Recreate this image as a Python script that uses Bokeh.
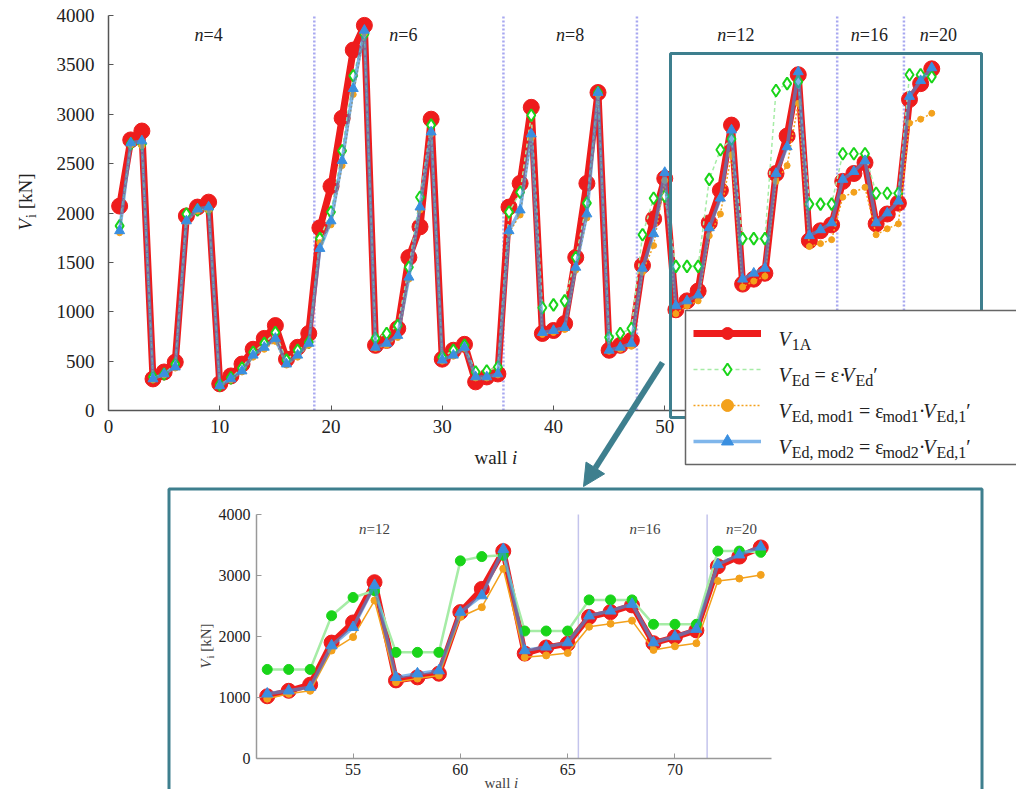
from bokeh.plotting import figure
from bokeh.models import (Range1d, FixedTicker, BoxAnnotation, Arrow, NormalHead, Label,
                          ColumnDataSource, Legend, LegendItem, LinearAxis)
from bokeh.embed import file_html
from bokeh.resources import INLINE

# ---- data: shear force per wall [kN] ----
walls = list(range(1, 75))

v_1a = [2070, 2740, 2830, 320, 390, 490, 1970, 2060, 2110, 270,
        350, 470, 620, 730, 860, 520, 640, 780, 1850, 2270,
        2960, 3650, 3900, 660, 710, 830, 1550, 1860, 2950, 520,
        610, 670, 290, 340, 370, 2060, 2300, 3070, 780, 810,
        880, 1550, 2300, 3220, 610, 660, 710, 1470, 1940, 2350,
        1020, 1110, 1210, 1900, 2230, 2890, 1280, 1330, 1390, 2400,
        2780, 3400, 1720, 1820, 1880, 2320, 2400, 2510, 1890, 1990,
        2100, 3150, 3310, 3460]

v_ed = [1870, 2700, 2700, 340, 370, 470, 1990, 2030, 2040, 260,
        330, 430, 590, 680, 790, 510, 610, 690, 1740, 2010,
        2630, 3390, 3810, 730, 780, 860, 1450, 2160, 2890, 540,
        610, 660, 390, 400, 440, 2010, 2210, 2990, 1040, 1070,
        1110, 1550, 2100, 3220, 740, 780, 830, 1780, 2150, 2170,
        1460, 1460, 1460, 2340, 2640, 2750, 1740, 1740, 1740, 3240,
        3310, 3330, 2090, 2090, 2090, 2600, 2600, 2600, 2200, 2200,
        2200, 3400, 3400, 3380]

v_mod1 = [1800, 2690, 2680, 310, 360, 430, 1910, 2020, 2030, 250,
          310, 390, 540, 620, 700, 460, 540, 660, 1700, 1880,
          2480, 3200, 3820, 630, 660, 740, 1330, 2030, 2800, 500,
          550, 630, 330, 330, 360, 1800, 1980, 2760, 770, 790,
          820, 1420, 1950, 3200, 600, 620, 650, 1400, 1670, 2330,
          980, 1060, 1110, 1770, 1990, 2590, 1250, 1310, 1360, 2320,
          2480, 3110, 1660, 1690, 1730, 2160, 2210, 2260, 1780, 1840,
          1890, 2910, 2950, 3010]

v_mod2 = [1820, 2710, 2730, 320, 370, 440, 1920, 2040, 2060, 250,
          320, 400, 560, 640, 730, 470, 560, 680, 1640, 1920,
          2530, 3260, 3850, 640, 680, 760, 1350, 2060, 2820, 510,
          560, 640, 340, 340, 370, 1820, 2030, 2800, 790, 810,
          840, 1450, 1990, 3220, 610, 640, 680, 1440, 1790, 2410,
          1060, 1110, 1170, 1850, 2150, 2840, 1330, 1390, 1440, 2400,
          2670, 3430, 1770, 1830, 1900, 2340, 2420, 2530, 1900, 2000,
          2120, 3180, 3340, 3470]

# storey groups: boundaries between wall groups and their labels
group_bounds = [18.5, 35.5, 47.5, 65.5, 71.5]
group_names = ["4", "6", "8", "12", "16", "20"]
group_label_x = [9.0, 26.5, 41.5, 56.4, 68.4, 74.6]
inset_first_wall = 51
inset_group_names = ["12", "16", "20"]
inset_group_label_x = [56.0, 68.6, 73.1]

main_xticks = [0, 10, 20, 30, 40, 50, 60, 70, 80]
main_yticks = [0, 500, 1000, 1500, 2000, 2500, 3000, 3500, 4000]
inset_xticks = [55, 60, 65, 70]
inset_yticks = [0, 1000, 2000, 3000, 4000]

SERIF = "Liberation Serif"
TEAL = "#3e7f8e"
RED = "#ee1c1c"
GREEN_LINE = "#a6eca6"
GREEN = "#19d419"
ORANGE = "#f3a11c"
BLUE = "#3a8fe0"
SEP = "#a8a8f0"
AXIS = "#555555"
TEXT = "#222222"
NB = "\u00a0"  # non-collapsing space for the typeset labels

W_PX, H_PX = 1016, 789

# page geometry of the two sets of axes (left, right, top, bottom in pixels)
MAIN_BOX = (108, 998, 15, 410)     # x 0..80, y 0..4000
INSET_BOX = (256, 771, 514, 758)   # x 50.5..74.5, y 0..4000


def full_range(lo, hi, a, b, total):
    """Range covering the whole canvas so that value lo sits at pixel a and hi at pixel b."""
    per = (hi - lo) / (b - a)
    return Range1d(lo - a * per, hi + (total - b) * per)


main_xr = full_range(0, 80, MAIN_BOX[0], MAIN_BOX[1], W_PX)
main_yr = full_range(0, 4000, H_PX - MAIN_BOX[3], H_PX - MAIN_BOX[2], H_PX)
inset_xr = full_range(50.5, 74.5, INSET_BOX[0], INSET_BOX[1], W_PX)
inset_yr = full_range(0, 4000, H_PX - INSET_BOX[3], H_PX - INSET_BOX[2], H_PX)


def mx(px):
    return main_xr.start + px * (main_xr.end - main_xr.start) / W_PX


def my(py):
    return main_yr.end - py * (main_yr.end - main_yr.start) / H_PX


def ix(px):
    return inset_xr.start + px * (inset_xr.end - inset_xr.start) / W_PX


def iy(py):
    return inset_yr.end - py * (inset_yr.end - inset_yr.start) / H_PX


src = ColumnDataSource(dict(wall=walls, v1a=v_1a, ved=v_ed, m1=v_mod1, m2=v_mod2))
k0 = inset_first_wall - 1
src_inset = ColumnDataSource(dict(wall=walls[k0:], v1a=v_1a[k0:], ved=v_ed[k0:],
                                  m1=v_mod1[k0:], m2=v_mod2[k0:]))

# approximate advance widths (em) of the serif face, for laying out mixed-style text
CHAR_W = {"V": 0.66, "E": 0.611, "d": 0.5, ",": 0.25, " ": 0.25, NB: 0.25, "m": 0.778,
          "o": 0.5, "1": 0.5, "2": 0.5, "A": 0.722, "=": 0.564, "\u03b5": 0.36,
          "\u00b7": 0.22, "\u2032": 0.275, "[": 0.333, "]": 0.333, "k": 0.5, "N": 0.722,
          "i": 0.278, "n": 0.5, "w": 0.722, "a": 0.444, "l": 0.278}


def text_w(s, size):
    return sum(CHAR_W.get(c, 0.5) for c in s) * size


p = figure(width=W_PX, height=H_PX, x_range=main_xr, y_range=main_yr,
           extra_x_ranges={"ix": inset_xr}, extra_y_ranges={"iy": inset_yr},
           x_axis_location=None, y_axis_location=None,
           output_backend="svg", toolbar_location=None,
           min_border=0, min_border_left=0, min_border_right=0,
           min_border_top=0, min_border_bottom=0)
p.title.visible = False
p.outline_line_color = None
p.grid.visible = False
p.background_fill_color = "white"
p.border_fill_color = "white"


def rich_text(cx, cy, px, py, pieces, size, sub_size, vertical=False, color=TEXT, rng=None):
    """Place a run of italic / roman / subscript pieces starting at page pixel (px, py)."""
    pos = 0.0
    for txt, style in pieces:
        s = sub_size if style == "sub" else size
        drop = 0.3 * size if style == "sub" else 0.0
        if vertical:
            x, y, ang = px + drop, py - pos, 1.5707963
        else:
            x, y, ang = px + pos, py + drop, 0.0
        kw = {} if rng is None else dict(x_range_name=rng[0], y_range_name=rng[1])
        p.add_layout(Label(x=cx(x), y=cy(y), text=txt, angle=ang, level="overlay",
                           text_font=SERIF, text_font_size=f"{s:.0f}px",
                           text_font_style="italic" if style == "it" else "normal",
                           text_align="left", text_baseline="alphabetic",
                           text_color=color, **kw))
        pos += text_w(txt, s)


def add_axes(xb, yb, xticks, yticks, size, line_color, xstand, ystand, rng=None):
    kw = {} if rng is None else dict(x_range_name=rng[0], y_range_name=rng[1])
    xa = LinearAxis(fixed_location=yb[0], bounds=xb, ticker=FixedTicker(ticks=xticks), **kw)
    ya = LinearAxis(fixed_location=xb[0], bounds=yb, ticker=FixedTicker(ticks=yticks), **kw)
    for ax in (xa, ya):
        ax.major_tick_in = 5
        ax.major_tick_out = 0
        ax.minor_tick_in = 0
        ax.minor_tick_out = 0
        ax.axis_line_color = line_color
        ax.axis_line_width = 1.5
        ax.major_tick_line_color = line_color
        ax.major_label_text_font = SERIF
        ax.major_label_text_font_size = size
        ax.major_label_text_color = TEXT
    xa.major_label_standoff = xstand
    ya.major_label_standoff = ystand
    p.add_layout(xa, "below")
    p.add_layout(ya, "left")


def draw_series(source, big, rng=None):
    kw = {} if rng is None else dict(x_range_name=rng[0], y_range_name=rng[1])
    r_red_l = p.line("wall", "v1a", source=source, line_color=RED, line_width=7 if big else 6, **kw)
    r_red_m = p.scatter("wall", "v1a", source=source, marker="circle", size=16 if big else 15,
                        fill_color=RED, line_color=RED, **kw)
    r_grn_l = p.line("wall", "ved", source=source, line_color=GREEN_LINE,
                     line_width=1.5 if big else 2.5, line_dash="4 3" if big else "solid", **kw)
    if big:
        r_grn_m = p.scatter("wall", "ved", source=source, marker="diamond", size=12,
                            fill_color="white", line_color=GREEN, line_width=2, **kw)
    else:
        r_grn_m = p.scatter("wall", "ved", source=source, marker="circle", size=10,
                            fill_color=GREEN, line_color=GREEN, **kw)
    r_org_l = p.line("wall", "m1", source=source, line_color=ORANGE, line_width=1.5,
                     line_dash="2 2" if big else "solid", **kw)
    r_org_m = p.scatter("wall", "m1", source=source, marker="circle", size=6 if big else 7,
                        fill_color=ORANGE, line_color=ORANGE, **kw)
    r_blu_l = p.line("wall", "m2", source=source, line_color=BLUE, line_width=3.5,
                     line_alpha=0.65, **kw)
    r_blu_m = p.scatter("wall", "m2", source=source, marker="triangle", size=10 if big else 11,
                        fill_color=BLUE, line_color=BLUE, **kw)
    return [(r_red_l, r_red_m), (r_grn_l, r_grn_m), (r_org_l, r_org_m), (r_blu_l, r_blu_m)]


# ================= main chart =================
add_axes((0, 80), (0, 4000), main_xticks, main_yticks, "19px", AXIS, 9, 14)

p.segment(x0=group_bounds, y0=[0] * len(group_bounds), x1=group_bounds,
          y1=[4000] * len(group_bounds), line_color=SEP, line_width=2.5, line_dash="2 2")

pairs = draw_series(src, True)

for name, gx in zip(group_names, group_label_x):
    w = text_w("n", 18) + text_w("=" + name, 18)
    px0 = MAIN_BOX[0] + gx * (MAIN_BOX[1] - MAIN_BOX[0]) / 80 - w / 2
    rich_text(mx, my, px0, 34, [("n", "it"), ("=" + name, "rm")], 18, 14)

# zoom frame and pointer to the detail view
p.add_layout(BoxAnnotation(left=mx(670), right=mx(981), top=my(53), bottom=my(417),
                           fill_alpha=0, line_color=TEAL, line_alpha=1.0, line_width=3))
p.add_layout(Arrow(end=NormalHead(size=22, fill_color=TEAL, line_color=TEAL),
                   x_start=mx(662), y_start=my(362), x_end=mx(583), y_end=my(486),
                   line_color=TEAL, line_width=6))

# legend frame, then transparent legend samples and the typeset entry texts
p.add_layout(BoxAnnotation(left=mx(685), right=mx(1030), top=my(310), bottom=my(464),
                           fill_color="white", fill_alpha=1.0, line_color="#666666",
                           line_alpha=1.0, line_width=1.5))
legend = Legend(items=[LegendItem(label=" ", renderers=list(pr)) for pr in pairs],
                location=(685, H_PX - 464), glyph_width=68, glyph_height=30,
                spacing=6, padding=8, margin=0, label_standoff=4, label_width=260,
                label_height=30, label_text_font_size="1px",
                border_line_alpha=0, background_fill_alpha=0)
p.add_layout(legend, "center")

EQ = NB + "=" + NB
leg_rows = [
    [("V", "it"), ("1A", "sub")],
    [("V", "it"), ("Ed", "sub"), (EQ + "\u03b5\u00b7", "rm"), ("V", "it"), ("Ed", "sub"),
     ("\u2032", "rm")],
    [("V", "it"), ("Ed," + NB + "mod1", "sub"), (EQ + "\u03b5", "rm"), ("mod1", "sub"),
     ("\u00b7", "rm"), ("V", "it"), ("Ed,1", "sub"), ("\u2032", "rm")],
    [("V", "it"), ("Ed," + NB + "mod2", "sub"), (EQ + "\u03b5", "rm"), ("mod2", "sub"),
     ("\u00b7", "rm"), ("V", "it"), ("Ed,1", "sub"), ("\u2032", "rm")],
]
for k, pieces in enumerate(leg_rows):
    rich_text(mx, my, 778, 333 + 36 * k + 5, pieces, 20, 16)

rich_text(mx, my, 474, 457, [("wall" + NB, "rm"), ("i", "it")], 19, 15)
rich_text(mx, my, 25, 230, [("V", "it"), ("i", "sub"), (NB + "[kN]", "rm")], 19, 14,
          vertical=True)

# ================= detail view =================
IR = ("ix", "iy")
add_axes((50.5, 74.5), (0, 4000), inset_xticks, inset_yticks, "16px", "#999999", 5, 6, rng=IR)

inset_bounds = [b for b in group_bounds if b > 50.5]
p.segment(x0=inset_bounds, y0=[0] * len(inset_bounds), x1=inset_bounds,
          y1=[4000] * len(inset_bounds), line_color="#c4c4ec", line_width=1.5,
          x_range_name="ix", y_range_name="iy")

draw_series(src_inset, False, rng=IR)

for name, gx in zip(inset_group_names, inset_group_label_x):
    w = text_w("n", 15) + text_w("=" + name, 15)
    px0 = INSET_BOX[0] + (gx - 50.5) * (INSET_BOX[1] - INSET_BOX[0]) / 24 - w / 2
    rich_text(ix, iy, px0, 528, [("n", "it"), ("=" + name, "rm")], 15, 11, color="#444444", rng=IR)

rich_text(ix, iy, 484, 782, [("wall" + NB, "rm"), ("i", "it")], 15, 12, color="#444444", rng=IR)
rich_text(ix, iy, 205, 668, [("V", "it"), ("i", "sub"), (NB + "[kN]", "rm")], 15, 11,
          vertical=True, color="#444444", rng=IR)

p.add_layout(BoxAnnotation(left=ix(168.5), right=ix(981.5), top=iy(488.5), bottom=iy(830),
                           x_range_name="ix", y_range_name="iy",
                           fill_alpha=0, line_color=TEAL, line_alpha=1.0, line_width=3))

open("out.html", "w").write(file_html(p, INLINE))
